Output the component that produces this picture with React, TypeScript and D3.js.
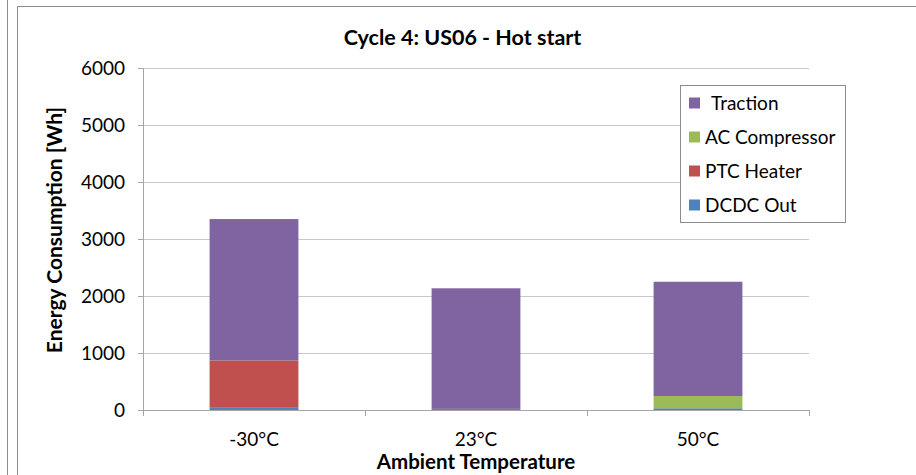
import React from "react";
import * as d3 from "d3";

const categories = ["-30°C", "23°C", "50°C"];
const seriesNames = ["DCDC Out", "PTC Heater", "AC Compressor", "Traction"];
const dcdcOut = [50, 20, 30];
const ptcHeater = [820, 0, 0];
const acCompressor = [0, 0, 215];
const traction = [2480, 2115, 2005];
const yTicks = [0, 1000, 2000, 3000, 4000, 5000, 6000];
const legendOrder = ["Traction", "AC Compressor", "PTC Heater", "DCDC Out"];

const colors: Record<string, string> = {
  "DCDC Out": "#4F81BD",
  "PTC Heater": "#C0504D",
  "AC Compressor": "#9BBB59",
  Traction: "#8064A2",
};

const W = 916;
const H = 475;
const plot = { left: 143, right: 809, top: 68, bottom: 410 };
const FONT = "Lato, 'Open Sans', sans-serif";

export default function App() {
  const rows = categories.map((c, i) => ({
    cat: c,
    "DCDC Out": dcdcOut[i],
    "PTC Heater": ptcHeater[i],
    "AC Compressor": acCompressor[i],
    Traction: traction[i],
  }));
  const stacked = d3.stack<any>().keys(seriesNames)(rows);

  const x = d3
    .scaleBand<string>()
    .domain(categories)
    .range([plot.left, plot.right])
    .paddingInner(0.6)
    .paddingOuter(0.3);
  const band = d3.scaleBand<string>().domain(categories).range([plot.left, plot.right]);
  const y = d3.scaleLinear().domain([0, 6000]).range([plot.bottom, plot.top]);

  return (
    <svg
      width={W}
      height={H}
      style={{ position: "absolute", left: 0, top: 0, background: "#fff" }}
      fontFamily={FONT}
    >
      <rect x={0} y={0} width={W} height={H} fill="#fff" />
      {/* frame lines */}
      <line x1={7.5} x2={7.5} y1={0} y2={H} stroke="#8c8c8c" />
      <line x1={17.5} x2={17.5} y1={6.5} y2={H} stroke="#8c8c8c" />
      <line x1={17.5} x2={W} y1={6.5} y2={6.5} stroke="#8c8c8c" />

      {/* title */}
      <text x={462.5} y={45} textAnchor="middle" fontSize={21.5} fontWeight="bold" fill="#000">
        Cycle 4: US06 - Hot start
      </text>

      {/* gridlines */}
      {yTicks.map((t) =>
        t === 0 ? null : (
          <line
            key={t}
            x1={plot.left}
            x2={plot.right}
            y1={Math.round(y(t)) + 0.5}
            y2={Math.round(y(t)) + 0.5}
            stroke="#c8c8c8"
            strokeWidth={1}
          />
        )
      )}

      {/* bars */}
      {stacked.map((s) => (
        <g key={s.key} fill={colors[s.key]}>
          {s.map((d, i) =>
            d[1] - d[0] > 0 ? (
              <rect
                key={i}
                x={x(categories[i])}
                width={x.bandwidth()}
                y={y(d[1])}
                height={y(d[0]) - y(d[1])}
              />
            ) : null
          )}
        </g>
      ))}

      {/* y axis */}
      <line x1={plot.left + 0.5} x2={plot.left + 0.5} y1={plot.top} y2={plot.bottom} stroke="#a6a6a6" />
      {yTicks.map((t) => (
        <g key={t}>
          <line
            x1={plot.left - 5}
            x2={plot.left}
            y1={Math.round(y(t)) + 0.5}
            y2={Math.round(y(t)) + 0.5}
            stroke="#a6a6a6"
          />
          <text x={plot.left - 18} y={y(t)} dy="0.36em" textAnchor="end" fontSize={19} fill="#000">
            {t}
          </text>
        </g>
      ))}

      {/* x axis */}
      <line x1={plot.left - 5} x2={plot.right} y1={plot.bottom + 0.5} y2={plot.bottom + 0.5} stroke="#a6a6a6" />
      {categories.map((c) => (
        <line
          key={"t" + c}
          x1={band(c)! + 0.5}
          x2={band(c)! + 0.5}
          y1={plot.bottom}
          y2={plot.bottom + 6}
          stroke="#a6a6a6"
        />
      ))}
      <line x1={plot.right + 0.5} x2={plot.right + 0.5} y1={plot.bottom} y2={plot.bottom + 6} stroke="#a6a6a6" />
      {categories.map((c) => (
        <text
          key={c}
          x={x(c)! + x.bandwidth() / 2}
          y={446}
          textAnchor="middle"
          fontSize={19}
          fill="#000"
        >
          {c}
        </text>
      ))}

      {/* axis titles */}
      <text x={476} y={469} textAnchor="middle" fontSize={20.5} fontWeight="bold" fill="#000">
        Ambient Temperature
      </text>
      <text
        transform={`translate(62, 230) rotate(-90)`}
        textAnchor="middle"
        fontSize={21}
        fontWeight="bold"
        fill="#000"
      >
        Energy Consumption [Wh]
      </text>

      {/* legend */}
      <rect x={680.5} y={85.5} width={165} height={137} fill="#fff" stroke="#8c8c8c" />
      {legendOrder.map((name, i) => (
        <g key={name} transform={`translate(689, ${103 + i * 34})`}>
          <rect x={0} y={-5.5} width={11} height={11} fill={colors[name]} />
          <text x={name === "Traction" ? 22 : 16} y={0} dy="0.36em" fontSize={19} fill="#000">
            {name}
          </text>
        </g>
      ))}
    </svg>
  );
}
